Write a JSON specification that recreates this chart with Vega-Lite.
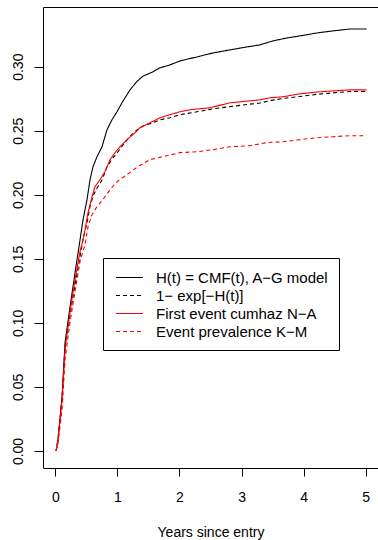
{
  "$schema": "https://vega.github.io/schema/vega-lite/v6.json",
  "width": 335,
  "height": 461,
  "autosize": {"type": "none"},
  "padding": {"left": 43, "top": 7, "right": 0, "bottom": 72},
  "background": "white",
  "config": {
    "view": {"stroke": "black", "strokeWidth": 1},
    "font": "Liberation Sans",
    "legend": {"strokeColor": "black"},
    "axis": {"grid": false, "domain": false, "tickColor": "black", "tickWidth": 1, "labelColor": "black", "titleColor": "black", "labelFont": "Liberation Sans", "titleFont": "Liberation Sans", "labelFontSize": 14, "titleFontSize": 14, "titleFontWeight": "normal", "labelFlush": false, "labelOverlap": false}
  },
  "data": {"values": [
    {"s": "H(t) = CMF(t), A−G model", "t": 0.011, "v": 0},
    {"s": "H(t) = CMF(t), A−G model", "t": 0.043, "v": 0.0093},
    {"s": "H(t) = CMF(t), A−G model", "t": 0.108, "v": 0.0428},
    {"s": "H(t) = CMF(t), A−G model", "t": 0.156, "v": 0.0849},
    {"s": "H(t) = CMF(t), A−G model", "t": 0.237, "v": 0.1129},
    {"s": "H(t) = CMF(t), A−G model", "t": 0.317, "v": 0.1394},
    {"s": "H(t) = CMF(t), A−G model", "t": 0.381, "v": 0.1597},
    {"s": "H(t) = CMF(t), A−G model", "t": 0.446, "v": 0.1807},
    {"s": "H(t) = CMF(t), A−G model", "t": 0.510, "v": 0.1963},
    {"s": "H(t) = CMF(t), A−G model", "t": 0.558, "v": 0.2118},
    {"s": "H(t) = CMF(t), A−G model", "t": 0.607, "v": 0.2220},
    {"s": "H(t) = CMF(t), A−G model", "t": 0.671, "v": 0.2298},
    {"s": "H(t) = CMF(t), A−G model", "t": 0.751, "v": 0.2375},
    {"s": "H(t) = CMF(t), A−G model", "t": 0.832, "v": 0.2508},
    {"s": "H(t) = CMF(t), A−G model", "t": 0.912, "v": 0.2586},
    {"s": "H(t) = CMF(t), A−G model", "t": 0.993, "v": 0.2648},
    {"s": "H(t) = CMF(t), A−G model", "t": 1.073, "v": 0.2718},
    {"s": "H(t) = CMF(t), A−G model", "t": 1.202, "v": 0.2819},
    {"s": "H(t) = CMF(t), A−G model", "t": 1.315, "v": 0.2885},
    {"s": "H(t) = CMF(t), A−G model", "t": 1.411, "v": 0.2926},
    {"s": "H(t) = CMF(t), A−G model", "t": 1.572, "v": 0.2960},
    {"s": "H(t) = CMF(t), A−G model", "t": 1.685, "v": 0.2991},
    {"s": "H(t) = CMF(t), A−G model", "t": 1.846, "v": 0.3014},
    {"s": "H(t) = CMF(t), A−G model", "t": 2.007, "v": 0.3045},
    {"s": "H(t) = CMF(t), A−G model", "t": 2.280, "v": 0.3076},
    {"s": "H(t) = CMF(t), A−G model", "t": 2.538, "v": 0.3107},
    {"s": "H(t) = CMF(t), A−G model", "t": 2.811, "v": 0.3131},
    {"s": "H(t) = CMF(t), A−G model", "t": 3.085, "v": 0.3154},
    {"s": "H(t) = CMF(t), A−G model", "t": 3.294, "v": 0.3170},
    {"s": "H(t) = CMF(t), A−G model", "t": 3.503, "v": 0.3201},
    {"s": "H(t) = CMF(t), A−G model", "t": 3.728, "v": 0.3224},
    {"s": "H(t) = CMF(t), A−G model", "t": 3.938, "v": 0.3240},
    {"s": "H(t) = CMF(t), A−G model", "t": 4.211, "v": 0.3263},
    {"s": "H(t) = CMF(t), A−G model", "t": 4.469, "v": 0.3279},
    {"s": "H(t) = CMF(t), A−G model", "t": 4.742, "v": 0.3294},
    {"s": "H(t) = CMF(t), A−G model", "t": 5.016, "v": 0.3294},
    {"s": "1− exp[−H(t)]", "t": 0.011, "v": 0},
    {"s": "1− exp[−H(t)]", "t": 0.043, "v": 0.0093},
    {"s": "1− exp[−H(t)]", "t": 0.108, "v": 0.0419},
    {"s": "1− exp[−H(t)]", "t": 0.156, "v": 0.0814},
    {"s": "1− exp[−H(t)]", "t": 0.237, "v": 0.1068},
    {"s": "1− exp[−H(t)]", "t": 0.317, "v": 0.1301},
    {"s": "1− exp[−H(t)]", "t": 0.381, "v": 0.1476},
    {"s": "1− exp[−H(t)]", "t": 0.446, "v": 0.1653},
    {"s": "1− exp[−H(t)]", "t": 0.510, "v": 0.1782},
    {"s": "1− exp[−H(t)]", "t": 0.558, "v": 0.1909},
    {"s": "1− exp[−H(t)]", "t": 0.607, "v": 0.1991},
    {"s": "1− exp[−H(t)]", "t": 0.671, "v": 0.2053},
    {"s": "1− exp[−H(t)]", "t": 0.751, "v": 0.2115},
    {"s": "1− exp[−H(t)]", "t": 0.832, "v": 0.2218},
    {"s": "1− exp[−H(t)]", "t": 0.912, "v": 0.2279},
    {"s": "1− exp[−H(t)]", "t": 0.993, "v": 0.2326},
    {"s": "1− exp[−H(t)]", "t": 1.073, "v": 0.2379},
    {"s": "1− exp[−H(t)]", "t": 1.202, "v": 0.2456},
    {"s": "1− exp[−H(t)]", "t": 1.315, "v": 0.2506},
    {"s": "1− exp[−H(t)]", "t": 1.411, "v": 0.2537},
    {"s": "1− exp[−H(t)]", "t": 1.572, "v": 0.2562},
    {"s": "1− exp[−H(t)]", "t": 1.685, "v": 0.2585},
    {"s": "1− exp[−H(t)]", "t": 1.846, "v": 0.2602},
    {"s": "1− exp[−H(t)]", "t": 2.007, "v": 0.2625},
    {"s": "1− exp[−H(t)]", "t": 2.280, "v": 0.2648},
    {"s": "1− exp[−H(t)]", "t": 2.538, "v": 0.2671},
    {"s": "1− exp[−H(t)]", "t": 2.811, "v": 0.2688},
    {"s": "1− exp[−H(t)]", "t": 3.085, "v": 0.2705},
    {"s": "1− exp[−H(t)]", "t": 3.294, "v": 0.2716},
    {"s": "1− exp[−H(t)]", "t": 3.503, "v": 0.2739},
    {"s": "1− exp[−H(t)]", "t": 3.728, "v": 0.2756},
    {"s": "1− exp[−H(t)]", "t": 3.938, "v": 0.2767},
    {"s": "1− exp[−H(t)]", "t": 4.211, "v": 0.2784},
    {"s": "1− exp[−H(t)]", "t": 4.469, "v": 0.2795},
    {"s": "1− exp[−H(t)]", "t": 4.742, "v": 0.2806},
    {"s": "1− exp[−H(t)]", "t": 5.016, "v": 0.2806},
    {"s": "First event cumhaz N−A", "t": 0.011, "v": 0},
    {"s": "First event cumhaz N−A", "t": 0.043, "v": 0.0093},
    {"s": "First event cumhaz N−A", "t": 0.108, "v": 0.0405},
    {"s": "First event cumhaz N−A", "t": 0.156, "v": 0.0794},
    {"s": "First event cumhaz N−A", "t": 0.237, "v": 0.1090},
    {"s": "First event cumhaz N−A", "t": 0.317, "v": 0.1340},
    {"s": "First event cumhaz N−A", "t": 0.397, "v": 0.1558},
    {"s": "First event cumhaz N−A", "t": 0.446, "v": 0.1651},
    {"s": "First event cumhaz N−A", "t": 0.478, "v": 0.1729},
    {"s": "First event cumhaz N−A", "t": 0.526, "v": 0.1861},
    {"s": "First event cumhaz N−A", "t": 0.591, "v": 0.1986},
    {"s": "First event cumhaz N−A", "t": 0.639, "v": 0.2064},
    {"s": "First event cumhaz N−A", "t": 0.719, "v": 0.2118},
    {"s": "First event cumhaz N−A", "t": 0.800, "v": 0.2181},
    {"s": "First event cumhaz N−A", "t": 0.880, "v": 0.2274},
    {"s": "First event cumhaz N−A", "t": 0.961, "v": 0.2329},
    {"s": "First event cumhaz N−A", "t": 1.041, "v": 0.2375},
    {"s": "First event cumhaz N−A", "t": 1.153, "v": 0.2430},
    {"s": "First event cumhaz N−A", "t": 1.282, "v": 0.2484},
    {"s": "First event cumhaz N−A", "t": 1.363, "v": 0.2523},
    {"s": "First event cumhaz N−A", "t": 1.524, "v": 0.2562},
    {"s": "First event cumhaz N−A", "t": 1.685, "v": 0.2601},
    {"s": "First event cumhaz N−A", "t": 1.846, "v": 0.2625},
    {"s": "First event cumhaz N−A", "t": 2.007, "v": 0.2648},
    {"s": "First event cumhaz N−A", "t": 2.167, "v": 0.2664},
    {"s": "First event cumhaz N−A", "t": 2.489, "v": 0.2679},
    {"s": "First event cumhaz N−A", "t": 2.811, "v": 0.2718},
    {"s": "First event cumhaz N−A", "t": 3.294, "v": 0.2741},
    {"s": "First event cumhaz N−A", "t": 3.455, "v": 0.2757},
    {"s": "First event cumhaz N−A", "t": 3.664, "v": 0.2765},
    {"s": "First event cumhaz N−A", "t": 3.938, "v": 0.2788},
    {"s": "First event cumhaz N−A", "t": 4.259, "v": 0.2804},
    {"s": "First event cumhaz N−A", "t": 4.742, "v": 0.2819},
    {"s": "First event cumhaz N−A", "t": 5.016, "v": 0.2819},
    {"s": "Event prevalence K−M", "t": 0.011, "v": 0},
    {"s": "Event prevalence K−M", "t": 0.043, "v": 0.0062},
    {"s": "Event prevalence K−M", "t": 0.108, "v": 0.0327},
    {"s": "Event prevalence K−M", "t": 0.156, "v": 0.0717},
    {"s": "Event prevalence K−M", "t": 0.237, "v": 0.1012},
    {"s": "Event prevalence K−M", "t": 0.317, "v": 0.1246},
    {"s": "Event prevalence K−M", "t": 0.397, "v": 0.1480},
    {"s": "Event prevalence K−M", "t": 0.478, "v": 0.1612},
    {"s": "Event prevalence K−M", "t": 0.526, "v": 0.1752},
    {"s": "Event prevalence K−M", "t": 0.591, "v": 0.1846},
    {"s": "Event prevalence K−M", "t": 0.671, "v": 0.1908},
    {"s": "Event prevalence K−M", "t": 0.767, "v": 0.1963},
    {"s": "Event prevalence K−M", "t": 0.880, "v": 0.2040},
    {"s": "Event prevalence K−M", "t": 0.993, "v": 0.2103},
    {"s": "Event prevalence K−M", "t": 1.154, "v": 0.2157},
    {"s": "Event prevalence K−M", "t": 1.331, "v": 0.2220},
    {"s": "Event prevalence K−M", "t": 1.524, "v": 0.2274},
    {"s": "Event prevalence K−M", "t": 1.733, "v": 0.2298},
    {"s": "Event prevalence K−M", "t": 2.007, "v": 0.2329},
    {"s": "Event prevalence K−M", "t": 2.280, "v": 0.2336},
    {"s": "Event prevalence K−M", "t": 2.538, "v": 0.2352},
    {"s": "Event prevalence K−M", "t": 2.811, "v": 0.2375},
    {"s": "Event prevalence K−M", "t": 3.133, "v": 0.2383},
    {"s": "Event prevalence K−M", "t": 3.407, "v": 0.2407},
    {"s": "Event prevalence K−M", "t": 3.664, "v": 0.2414},
    {"s": "Event prevalence K−M", "t": 3.938, "v": 0.2430},
    {"s": "Event prevalence K−M", "t": 4.211, "v": 0.2445},
    {"s": "Event prevalence K−M", "t": 4.469, "v": 0.2453},
    {"s": "Event prevalence K−M", "t": 4.742, "v": 0.2461},
    {"s": "Event prevalence K−M", "t": 5.016, "v": 0.2461}
  ]},
  "mark": {"type": "line", "strokeWidth": 1.1, "clip": true},
  "encoding": {
    "x": {
      "field": "t", "type": "quantitative",
      "scale": {"domain": [-0.2, 5.2], "nice": false, "zero": false},
      "axis": {"values": [0, 1, 2, 3, 4, 5], "title": "Years since entry", "tickSize": 8, "labelPadding": 14, "titlePadding": 21}
    },
    "y": {
      "field": "v", "type": "quantitative",
      "scale": {"domain": [-0.0133, 0.3466], "nice": false, "zero": false},
      "axis": {"values": [0, 0.05, 0.1, 0.15, 0.2, 0.25, 0.3], "format": ".2f", "title": null, "tickSize": 9, "labelAngle": -90, "labelAlign": "center", "labelBaseline": "alphabetic", "labelPadding": 12}
    },
    "color": {
      "field": "s", "type": "nominal", "sort": null,
      "scale": {"domain": ["H(t) = CMF(t), A−G model", "1− exp[−H(t)]", "First event cumhaz N−A", "Event prevalence K−M"], "range": ["#000000", "#000000", "#FF0000", "#FF0000"]},
      "legend": {"orient": "none", "legendX": 60, "legendY": 251, "title": null, "padding": 10, "fillColor": "white", "cornerRadius": 0, "symbolType": "M-0.76,0H2.41", "symbolSize": 289, "symbolStrokeWidth": 1.1, "labelFontSize": 15, "labelFont": "Liberation Sans", "labelColor": "black", "labelOffset": 24, "rowPadding": 0, "labelLimit": 400,
        "encode": {"symbols": {"update": {"stroke": {"condition": {"test": "indexof(['First event cumhaz N−A', 'Event prevalence K−M'], datum.value) >= 0", "value": "#FF0000"}, "value": "#000000"}}}}}
    },
    "strokeDash": {
      "field": "s", "type": "nominal", "sort": null,
      "scale": {"domain": ["H(t) = CMF(t), A−G model", "1− exp[−H(t)]", "First event cumhaz N−A", "Event prevalence K−M"], "range": [[1, 0], [4, 3], [1, 0], [4, 3]]},
      "legend": {"orient": "none", "legendX": 60, "legendY": 251, "title": null, "padding": 10, "fillColor": "white", "cornerRadius": 0, "symbolType": "M-0.76,0H2.41", "symbolSize": 289, "symbolStrokeWidth": 1.1, "labelFontSize": 15, "labelFont": "Liberation Sans", "labelColor": "black", "labelOffset": 24, "rowPadding": 0, "labelLimit": 400,
        "encode": {"symbols": {"update": {"stroke": {"condition": {"test": "indexof(['First event cumhaz N−A', 'Event prevalence K−M'], datum.value) >= 0", "value": "#FF0000"}, "value": "#000000"}}}}}
    }
  }
}
